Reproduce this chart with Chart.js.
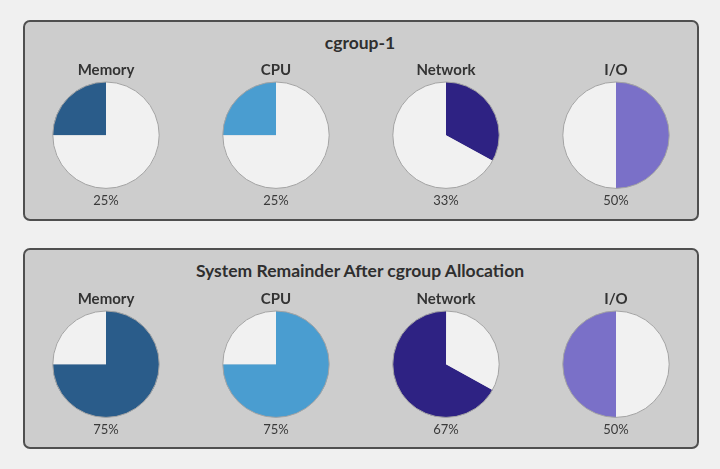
<!DOCTYPE html>
<html>
<head>
<meta charset="utf-8">
<script src="https://cdn.jsdelivr.net/npm/chart.js@4/dist/chart.umd.min.js"></script>
<style>
  body { margin: 0; background: #f0f0f0; width: 720px; height: 469px; position: relative; overflow: hidden; font-family: Lato, "Open Sans", sans-serif; }
  .panel { position: absolute; left: 23px; width: 676px; height: 201px; box-sizing: border-box; background: #cdcdcd; border: 2px solid #4f4f4f; border-radius: 7px; }
  .title { position: absolute; left: 0; width: 720px; text-align: center; font-weight: bold; font-size: 17.5px; color: #2f2f2f; line-height: 20px; }
  .pie { position: absolute; width: 150px; height: 148px; }
</style>
</head>
<body>
<div class="panel" style="top:20px"></div>
<div class="panel" style="top:248px"></div>
<div class="title" style="top:33px">cgroup-1</div>
<div class="title" style="top:261px">System Remainder After cgroup Allocation</div>
<div id="charts"></div>
<script>
// Ressourcen und Anteile
const resources = ['Memory', 'CPU', 'Network', 'I/O'];
const cgroupShare = [25, 25, 33, 50];
const remainderShare = [75, 75, 67, 50];

const sliceColors = ['#2a5c8a', '#4a9dd0', '#2e2283', '#7a70c8'];
const freeColor = '#f1f1f1';
const centersX = [106, 276, 446, 616];
const topRotation = [-90, -90, 0, 0];
const bottomRotation = [0, 0, 119, 180];

// Kreisrand nur aussen zeichnen
const outlinePlugin = {
    id: 'outline',
    afterDatasetsDraw(chart) {
        const arc = chart.getDatasetMeta(0).data[0];
        const ctx = chart.ctx;
        ctx.save();
        ctx.beginPath();
        ctx.arc(arc.x, arc.y, arc.outerRadius, 0, Math.PI * 2);
        ctx.strokeStyle = '#a3a3a3';
        ctx.lineWidth = 1;
        ctx.stroke();
        ctx.restore();
    }
};

function makePie(top, i, values, rest, rotation) {
    const box = document.createElement('div');
    box.className = 'pie';
    box.style.left = (centersX[i] - 75) + 'px';
    box.style.top = top + 'px';
    const canvas = document.createElement('canvas');
    canvas.width = 150;
    canvas.height = 148;
    box.appendChild(canvas);
    document.getElementById('charts').appendChild(box);

    new Chart(canvas.getContext('2d'), {
        type: 'pie',
        data: {
            labels: [resources[i], 'free'],
            datasets: [{
                data: [values[i], rest[i]],
                backgroundColor: [sliceColors[i], freeColor],
                borderWidth: 0,
                hoverOffset: 0
            }]
        },
        options: {
            responsive: false,
            animation: false,
            rotation: rotation,
            plugins: {
                legend: { display: false },
                tooltip: { enabled: false },
                title: {
                    display: true,
                    text: resources[i],
                    color: '#333',
                    font: { family: 'Lato', size: 15, weight: 'bold' },
                    padding: { top: 0, bottom: 3 }
                },
                subtitle: {
                    display: true,
                    position: 'bottom',
                    text: values[i] + '%',
                    color: '#3a3a3a',
                    font: { family: 'Lato', size: 13, weight: 'normal' },
                    padding: { top: 5, bottom: 0 }
                }
            }
        },
        plugins: [outlinePlugin]
    });
}

for (let i = 0; i < resources.length; i++) {
    makePie(61, i, cgroupShare, remainderShare, topRotation[i]);
    makePie(290, i, remainderShare, cgroupShare, bottomRotation[i]);
}
</script>
</body>
</html>
